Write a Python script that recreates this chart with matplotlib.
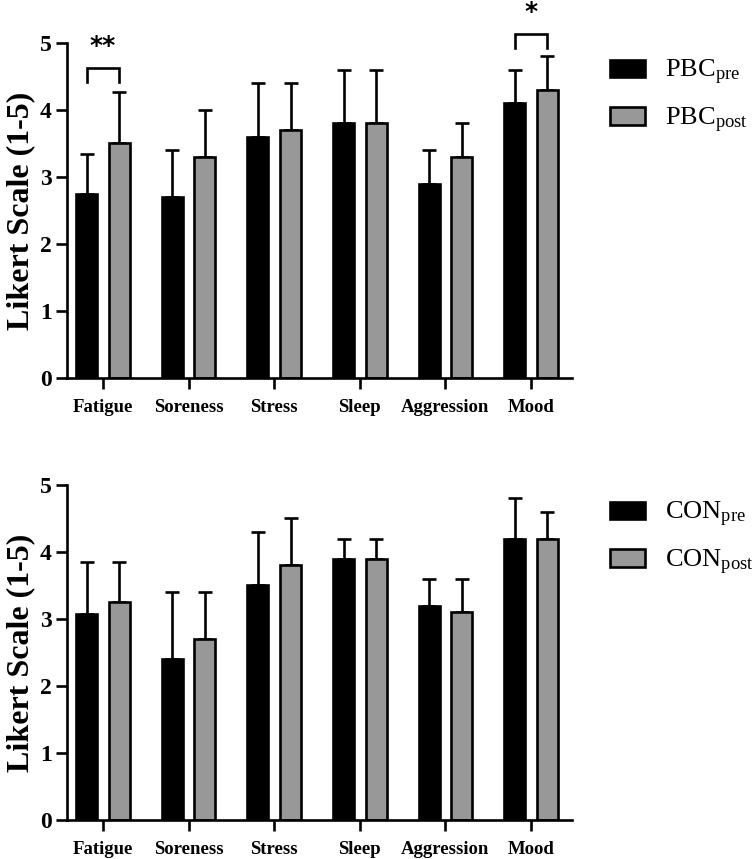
import numpy as np
import matplotlib.pyplot as plt
from matplotlib.patches import Patch

plt.rcParams['font.family'] = 'Liberation Serif'
plt.rcParams['mathtext.fontset'] = 'custom'
plt.rcParams['mathtext.rm'] = 'Liberation Serif'
plt.rcParams['mathtext.it'] = 'Liberation Serif:italic'

# --- Data ---
categories = ['Fatigue', 'Soreness', 'Stress', 'Sleep', 'Aggression', 'Mood']

pbc_pre = [2.75, 2.70, 3.60, 3.80, 2.90, 4.10]
pbc_pre_sd = [0.60, 0.70, 0.80, 0.80, 0.50, 0.50]
pbc_post = [3.50, 3.30, 3.70, 3.80, 3.30, 4.30]
pbc_post_sd = [0.77, 0.70, 0.70, 0.80, 0.50, 0.50]

con_pre = [3.08, 2.40, 3.50, 3.90, 3.20, 4.20]
con_pre_sd = [0.77, 1.00, 0.80, 0.30, 0.40, 0.60]
con_post = [3.25, 2.70, 3.80, 3.90, 3.10, 4.20]
con_post_sd = [0.60, 0.70, 0.70, 0.30, 0.50, 0.40]

# significance: (category index, bracket height, label)
pbc_sig = [(0, 4.63, '**'), (5, 5.14, '*')]

gray = '#989898'
W = 0.245
OFF = 0.19
LW = 1.9


def draw_panel(ax, pre, pre_sd, post, post_sd, names, sig):
    x = np.arange(len(categories))
    ax.bar(x - OFF, pre, W, color='black', edgecolor='black', linewidth=LW, zorder=2)
    ax.bar(x + OFF, post, W, color=gray, edgecolor='black', linewidth=LW, zorder=2)
    ax.errorbar(x - OFF, pre, yerr=[np.zeros(len(pre)), pre_sd], fmt='none',
                ecolor='black', elinewidth=LW, capsize=5, capthick=LW, zorder=1)
    ax.errorbar(x + OFF, post, yerr=[np.zeros(len(post)), post_sd], fmt='none',
                ecolor='black', elinewidth=LW, capsize=5, capthick=LW, zorder=1)

    for i, h, lab in sig:
        ax.plot([i - OFF, i - OFF, i + OFF, i + OFF], [h - 0.22, h, h, h - 0.22],
                color='black', lw=LW, clip_on=False, solid_joinstyle='miter')
        ax.text(i, h + 0.14, lab, ha='center', va='bottom', fontsize=18,
                fontweight='bold', family='DejaVu Sans', clip_on=False)

    ax.set_xlim(-0.42, 5.48)
    ax.set_ylim(0, 5)
    ax.set_xticks(x)
    ax.set_xticklabels(categories, fontsize=13.5, fontweight='bold')
    ax.set_yticks(range(6))
    ax.set_yticklabels([str(v) for v in range(6)], fontsize=17, fontweight='bold')
    ax.set_ylabel('Likert Scale (1-5)', fontsize=23, fontweight='bold', labelpad=3)
    ax.tick_params(axis='both', width=LW, length=8)
    ax.tick_params(axis='x', pad=7)
    ax.tick_params(axis='y', pad=3)
    for s in ['top', 'right']:
        ax.spines[s].set_visible(False)
    for s in ['left', 'bottom']:
        ax.spines[s].set_linewidth(LW)

    handles = [Patch(facecolor='black', edgecolor='black', linewidth=LW),
               Patch(facecolor=gray, edgecolor='black', linewidth=LW)]
    ax.legend(handles, names, loc='upper left', bbox_to_anchor=(1.075, 0.955),
              frameon=False, fontsize=19, handlelength=1.33, handleheight=0.64,
              handletextpad=0.75, labelspacing=0.7, borderaxespad=0,
              borderpad=0)


fig = plt.figure(figsize=(7.54, 8.59), dpi=100)
ax1 = fig.add_axes([0.0889, 0.560, 0.670, 0.390])
ax2 = fig.add_axes([0.0889, 0.0454, 0.670, 0.390])

draw_panel(ax1, pbc_pre, pbc_pre_sd, pbc_post, pbc_post_sd,
           ['PBC$_{\\mathrm{pre}}$', 'PBC$_{\\mathrm{post}}$'], pbc_sig)
draw_panel(ax2, con_pre, con_pre_sd, con_post, con_post_sd,
           ['CON$_{\\mathrm{pre}}$', 'CON$_{\\mathrm{post}}$'], [])

fig.savefig('out.png', dpi=100)
